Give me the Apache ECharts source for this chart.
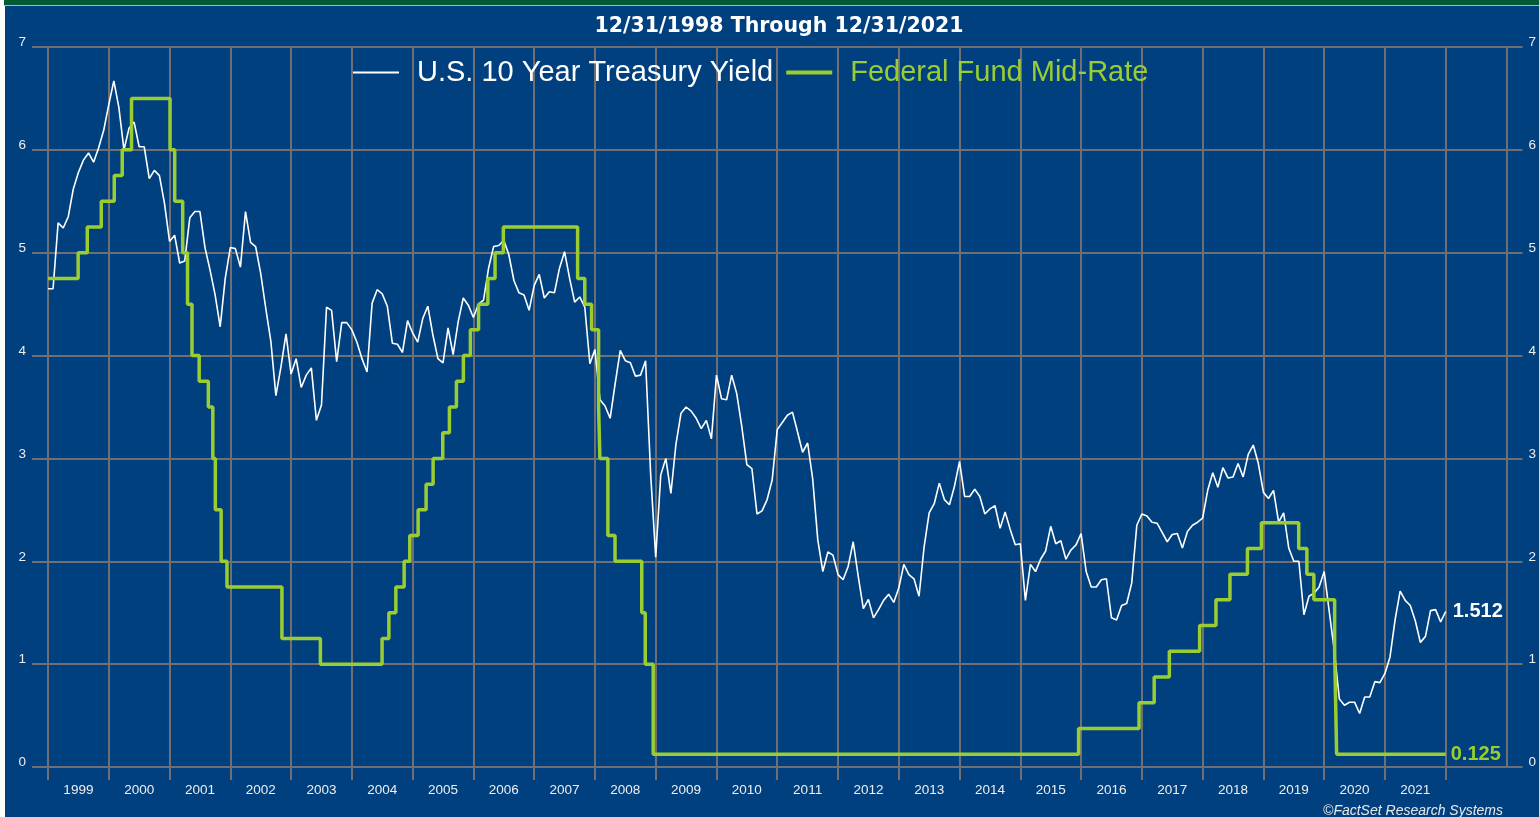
<!DOCTYPE html>
<html>
<head>
<meta charset="utf-8">
<title>10 Year Treasury Yield vs Fed Funds</title>
<script src="https://cdn.jsdelivr.net/npm/echarts@6/dist/echarts.min.js"></script>
<style>
  html, body { margin: 0; padding: 0; background: #fff; }
  #chart { width: 1539px; height: 817px; }
</style>
</head>
<body>
<div id="chart"></div>
<script>
// month-end 10y yield, first value is 12/31/1998
const treasuryYield = [
  4.65,
  4.65, 5.29, 5.24, 5.35, 5.62, 5.78, 5.90, 5.97, 5.88, 6.02, 6.19, 6.44,
  6.67, 6.41, 6.00, 6.21, 6.27, 6.03, 6.03, 5.72, 5.80, 5.75, 5.48, 5.11,
  5.17, 4.90, 4.92, 5.34, 5.40, 5.40, 5.05, 4.83, 4.59, 4.28, 4.75, 5.05,
  5.04, 4.86, 5.40, 5.10, 5.06, 4.80, 4.46, 4.14, 3.61, 3.89, 4.21, 3.82,
  3.97, 3.69, 3.81, 3.88, 3.37, 3.52, 4.47, 4.44, 3.94, 4.32, 4.32, 4.25,
  4.13, 3.97, 3.84, 4.51, 4.64, 4.60, 4.48, 4.12, 4.11, 4.03, 4.34, 4.22,
  4.13, 4.36, 4.48, 4.20, 3.97, 3.93, 4.27, 4.01, 4.33, 4.56, 4.49, 4.37,
  4.50, 4.54, 4.85, 5.06, 5.07, 5.12, 4.98, 4.73, 4.61, 4.59, 4.44, 4.68,
  4.79, 4.56, 4.62, 4.61, 4.85, 5.01, 4.75, 4.52, 4.57, 4.47, 3.92, 4.06,
  3.57, 3.51, 3.39, 3.73, 4.05, 3.95, 3.93, 3.80, 3.81, 3.95, 2.85, 2.04,
  2.84, 3.00, 2.66, 3.14, 3.44, 3.50, 3.46, 3.39, 3.29, 3.37, 3.19, 3.81,
  3.58, 3.57, 3.81, 3.63, 3.31, 2.94, 2.90, 2.46, 2.49, 2.60, 2.79, 3.28,
  3.35, 3.42, 3.45, 3.26, 3.06, 3.15, 2.80, 2.21, 1.90, 2.09, 2.06, 1.87,
  1.82, 1.95, 2.19, 1.85, 1.54, 1.63, 1.45, 1.53, 1.62, 1.68, 1.60, 1.74,
  1.97, 1.87, 1.83, 1.66, 2.14, 2.47, 2.56, 2.76, 2.60, 2.55, 2.73, 2.97,
  2.63, 2.63, 2.70, 2.63, 2.46, 2.51, 2.54, 2.32, 2.48, 2.31, 2.16, 2.17,
  1.62, 1.97, 1.90, 2.02, 2.10, 2.34, 2.17, 2.20, 2.02, 2.11, 2.16, 2.27,
  1.90, 1.75, 1.75, 1.82, 1.83, 1.45, 1.43, 1.57, 1.59, 1.79, 2.35, 2.46,
  2.44, 2.38, 2.37, 2.28, 2.19, 2.26, 2.27, 2.13, 2.29, 2.35, 2.38, 2.42,
  2.69, 2.86, 2.72, 2.91, 2.81, 2.82, 2.95, 2.82, 3.04, 3.13, 2.95, 2.67,
  2.61, 2.69, 2.38, 2.47, 2.13, 2.00, 2.00, 1.48, 1.66, 1.69, 1.75, 1.90,
  1.51, 1.13, 0.66, 0.60, 0.63, 0.63, 0.52, 0.68, 0.68, 0.83, 0.82, 0.91,
  1.07, 1.43, 1.71, 1.62, 1.57, 1.42, 1.21, 1.27, 1.52, 1.53, 1.41, 1.512
]

// fed funds target mid-rate, value in force from each date
const fedDates = [
  '1998-12-31', '1999-06-30', '1999-08-24', '1999-11-16', '2000-02-02', '2000-03-21', '2000-05-16',
  '2001-01-03', '2001-01-31', '2001-03-20', '2001-04-18', '2001-05-15', '2001-06-27', '2001-08-21',
  '2001-09-17', '2001-10-02', '2001-11-06', '2001-12-11', '2002-11-06', '2003-06-25',
  '2004-06-30', '2004-08-10', '2004-09-21', '2004-11-10', '2004-12-14', '2005-02-02', '2005-03-22',
  '2005-05-03', '2005-06-30', '2005-08-09', '2005-09-20', '2005-11-01', '2005-12-13', '2006-01-31',
  '2006-03-28', '2006-05-10', '2006-06-29', '2007-09-18', '2007-10-31', '2007-12-11', '2008-01-22',
  '2008-01-30', '2008-03-18', '2008-04-30', '2008-10-08', '2008-10-29', '2008-12-16',
  '2015-12-16', '2016-12-14', '2017-03-15', '2017-06-14', '2017-12-13', '2018-03-21', '2018-06-13',
  '2018-09-26', '2018-12-19', '2019-07-31', '2019-09-18', '2019-10-30', '2020-03-03', '2020-03-15',
  '2021-12-31'
]
const fedRates = [
  4.75, 5.00, 5.25, 5.50, 5.75, 6.00, 6.50,
  6.00, 5.50, 5.00, 4.50, 4.00, 3.75, 3.50,
  3.00, 2.50, 2.00, 1.75, 1.25, 1.00,
  1.25, 1.50, 1.75, 2.00, 2.25, 2.50, 2.75,
  3.00, 3.25, 3.50, 3.75, 4.00, 4.25, 4.50,
  4.75, 5.00, 5.25, 4.75, 4.50, 4.25, 3.50,
  3.00, 2.25, 2.00, 1.50, 1.00, 0.125,
  0.375, 0.625, 0.875, 1.125, 1.375, 1.625, 1.875,
  2.125, 2.375, 2.125, 1.875, 1.625, 1.125, 0.125,
  0.125
]

const yearLabels = ['1999', '2000', '2001', '2002', '2003', '2004', '2005', '2006', '2007', '2008', '2009', '2010',
  '2011', '2012', '2013', '2014', '2015', '2016', '2017', '2018', '2019', '2020', '2021']

const BLUE = '#00407F'
const GRID = '#707074'
const GREEN = '#9ACD32'
const LABEL = '#EEEEEE'

// date string -> decimal year, 12/31/1998 -> 1999.0
function toYear(s) {
  const [y, m, d] = s.split('-').map(Number)
  const days = Date.UTC(y + 1, 0, 1) - Date.UTC(y, 0, 1)
  return y + (Date.UTC(y, m - 1, d) - Date.UTC(y, 0, 0)) / days
}

const treasuryPoints = treasuryYield.map((v, i) => [1999 + i / 12, v])
const fedPoints = fedDates.map((d, i) => [toYear(d), fedRates[i]])
const tickYears = yearLabels.map(Number).concat([2022])
const labelPos = yearLabels.map(y => Number(y) + 0.5)

const gridLine = { color: GRID, width: 2 }
const yLabel = { color: LABEL, fontSize: 13.5, margin: 22, lineHeight: 9, verticalAlign: 'bottom' }

const chart = echarts.init(document.getElementById('chart'))

chart.setOption({
  animation: false,
  backgroundColor: BLUE,
  textStyle: { fontFamily: '"Liberation Sans", Arial, sans-serif' },
  graphic: [
    { type: 'rect', shape: { x: 0, y: 0, width: 5, height: 817 }, style: { fill: '#fff' } },
    { type: 'rect', shape: { x: 4, y: 0, width: 1535, height: 5 }, style: { fill: '#045A34' } },
    { type: 'rect', shape: { x: 4, y: 5, width: 1535, height: 1 }, style: { fill: '#B4B4B4' } },
    {
      type: 'text', x: 779, y: 27,
      style: {
        text: '12/31/1998 Through 12/31/2021', fill: '#fff', align: 'center', verticalAlign: 'middle',
        font: 'bold 20.5px "DejaVu Sans", sans-serif'
      }
    },
    {
      type: 'text', x: 1503, y: 811,
      style: {
        text: '©FactSet Research Systems', fill: '#E8E8E8', align: 'right', verticalAlign: 'middle',
        font: 'italic 14px "Liberation Sans", Arial, sans-serif'
      }
    }
  ],
  legend: {
    left: 352,
    top: 58,
    padding: 0,
    itemWidth: 46,
    itemHeight: 4,
    itemGap: 11,
    itemStyle: { opacity: 0 },
    textStyle: { fontSize: 29, padding: [0, 0, 0, 13] },
    data: [
      { name: 'U.S. 10 Year Treasury Yield', textStyle: { color: '#fff' }, lineStyle: { width: 2 } },
      { name: 'Federal Fund Mid-Rate', textStyle: { color: GREEN }, lineStyle: { width: 4 } }
    ]
  },
  grid: { left: 48, right: 31, top: 47, bottom: 50 },
  xAxis: {
    type: 'value',
    min: 1999,
    max: 2023,
    interval: 1,
    axisLine: { show: true, lineStyle: gridLine },
    axisTick: { show: true, length: 13, customValues: tickYears, lineStyle: gridLine },
    axisLabel: {
      customValues: labelPos,
      formatter: v => String(Math.floor(v)),
      color: LABEL, fontSize: 13.5, margin: 16
    },
    splitLine: { show: true, lineStyle: gridLine }
  },
  yAxis: [
    {
      type: 'value', min: 0, max: 7, interval: 1, position: 'left',
      axisLine: { show: true, lineStyle: gridLine },
      axisTick: { show: true, length: 16, lineStyle: gridLine },
      axisLabel: yLabel,
      splitLine: { show: true, lineStyle: gridLine }
    },
    {
      type: 'value', min: 0, max: 7, interval: 1, position: 'right',
      axisLine: { show: true, lineStyle: gridLine },
      axisTick: { show: true, length: 16, lineStyle: gridLine },
      axisLabel: yLabel,
      splitLine: { show: false }
    }
  ],
  series: [
    {
      name: 'U.S. 10 Year Treasury Yield',
      type: 'line',
      data: treasuryPoints,
      symbol: 'none',
      color: '#fff',
      lineStyle: { color: '#fff', width: 1.6 },
      endLabel: {
        show: true, formatter: p => p.value[1].toFixed(3),
        color: '#fff', fontSize: 20, fontWeight: 'bold', distance: 7
      },
      z: 3
    },
    {
      name: 'Federal Fund Mid-Rate',
      type: 'line',
      step: 'end',
      data: fedPoints,
      symbol: 'none',
      color: GREEN,
      lineStyle: { color: GREEN, width: 3.5 },
      endLabel: {
        show: true, formatter: p => p.value[1].toFixed(3),
        color: GREEN, fontSize: 20, fontWeight: 'bold', distance: 5
      },
      z: 4
    }
  ]
})
</script>
</body>
</html>
